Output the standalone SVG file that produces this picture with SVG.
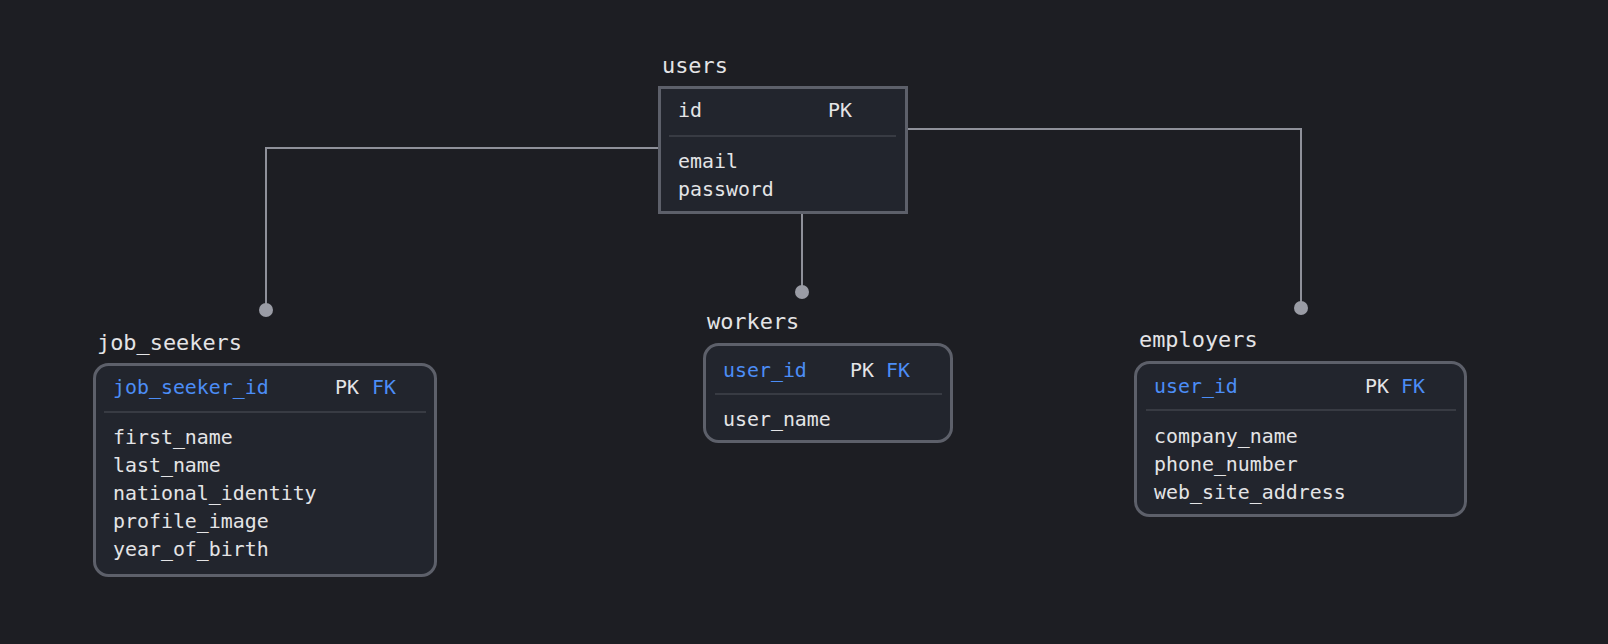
<svg xmlns="http://www.w3.org/2000/svg" width="1608" height="644" viewBox="0 0 1608 644">
<style>
.bg{fill:#1d1e23}
.box{fill:#22252d;stroke:#5d606a;stroke-width:3}
.div{stroke:#4f525b;stroke-width:1.2}
.title{font-family:"DejaVu Sans Mono","Liberation Mono",monospace;font-size:21.9px;fill:#e4e4e6}
.t{font-family:"DejaVu Sans Mono","Liberation Mono",monospace;font-size:19.9px;fill:#e4e4e6}
.k{fill:#4c8df6}
.conn{fill:none;stroke:#8f919a;stroke-width:2}
.dot{fill:#9a9ca5}
</style>
<rect class="bg" x="0" y="0" width="1608" height="644"/>
<g id="connectors">
<path class="conn" d="M659 148 H266 V310"/>
<circle class="dot" cx="266" cy="310" r="7"/>
<path class="conn" d="M906 129 H1301 V308"/>
<circle class="dot" cx="1301" cy="308" r="7"/>
<path class="conn" d="M802 213 V292"/>
<circle class="dot" cx="802" cy="292" r="7"/>
</g>
<g id="users">
<text class="title" x="662" y="73">users</text>
<rect class="box" x="659.5" y="87.5" width="247" height="125"/>
<text class="t" x="678" y="117">id</text>
<text class="t" x="828" y="117">PK</text>
<line class="div" x1="669" y1="136" x2="896" y2="136"/>
<text class="t" x="678" y="168">email</text>
<text class="t" x="678" y="196">password</text>
</g>
<g id="job_seekers">
<text class="title" x="97" y="350">job_seekers</text>
<rect class="box" x="94.5" y="364.5" width="341" height="211" rx="14"/>
<text class="t k" x="113" y="394">job_seeker_id</text>
<text class="t" x="335" y="394">PK</text>
<text class="t k" x="372" y="394">FK</text>
<line class="div" x1="104" y1="412" x2="426" y2="412"/>
<text class="t" x="113" y="444">first_name</text>
<text class="t" x="113" y="472">last_name</text>
<text class="t" x="113" y="500">national_identity</text>
<text class="t" x="113" y="528">profile_image</text>
<text class="t" x="113" y="556">year_of_birth</text>
</g>
<g id="workers">
<text class="title" x="707" y="329">workers</text>
<rect class="box" x="704.5" y="344.5" width="247" height="97" rx="14"/>
<text class="t k" x="723" y="377">user_id</text>
<text class="t" x="850" y="377">PK</text>
<text class="t k" x="886" y="377">FK</text>
<line class="div" x1="715" y1="394" x2="942" y2="394"/>
<text class="t" x="723" y="426">user_name</text>
</g>
<g id="employers">
<text class="title" x="1139" y="347">employers</text>
<rect class="box" x="1135.5" y="362.5" width="330" height="153" rx="14"/>
<text class="t k" x="1154" y="393">user_id</text>
<text class="t" x="1365" y="393">PK</text>
<text class="t k" x="1401" y="393">FK</text>
<line class="div" x1="1146" y1="410" x2="1456" y2="410"/>
<text class="t" x="1154" y="443">company_name</text>
<text class="t" x="1154" y="471">phone_number</text>
<text class="t" x="1154" y="499">web_site_address</text>
</g>
</svg>
